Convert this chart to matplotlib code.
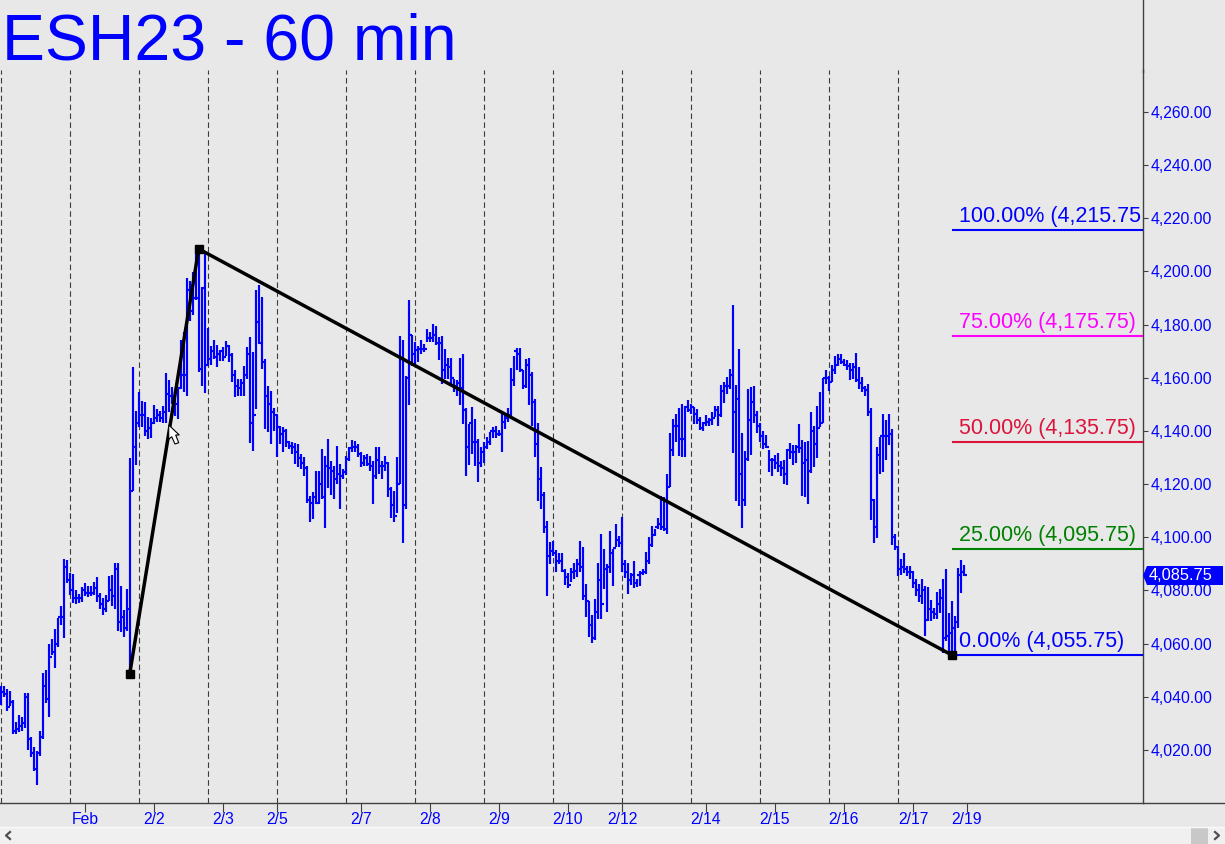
import matplotlib
matplotlib.use("Agg")
import matplotlib.pyplot as plt
from matplotlib.patches import Polygon, Rectangle

plt.rcParams['font.family'] = ['Liberation Sans', 'DejaVu Sans']

highs = [4044.2,4044.2,4043,4042.3,4038.8,4030.6,4033.2,4032.5,4041.6,4041.6,
4025,4021,4019.7,4027.2,4048.9,4050.2,4059.8,4061.7,4065.5,4069.5,
4074.3,4091.9,4091.4,4086.6,4086.2,4080.3,4078.7,4081.3,4082.8,4081.6,
4081.6,4083.1,4085.1,4079.1,4077.2,4078.4,4085.4,4086,4090.4,4090.4,
4081.6,4072.8,4080.6,4129.7,4164,4147.7,4154.8,4151.4,4150.8,4145.4,
4144.8,4149.6,4148.3,4147.7,4149.3,4161.8,4159,4156.5,4152,4155.8,
4174.1,4177.2,4197.6,4196.5,4199.9,4207,4209,4194,4207.4,4178.7,
4172,4174.1,4172.2,4170.3,4171.6,4173.7,4172.2,4169.3,4162.8,4159.6,
4159.6,4164.3,4171.6,4175.3,4169.7,4193,4194.8,4190.4,4167.2,4157.1,
4155.2,4148.6,4146.4,4141.8,4141.4,4140.8,4136.3,4135.7,4135.5,4135.1,
4131.3,4130.1,4126.9,4115.6,4116.9,4125,4125,4133.2,4130.7,4137,
4128.8,4126.9,4134.5,4127.5,4125.7,4130.7,4133.8,4136.7,4136.3,4135.1,
4132.2,4130.9,4131.3,4130.7,4128.8,4133.8,4133.8,4128.8,4130.7,4128.2,
4119.1,4117.5,4130.4,4175.7,4174.1,4160.6,4189.4,4176,4173.5,4172,
4174.1,4172.8,4178.5,4177.2,4180.4,4179.5,4175.4,4175.7,4170.7,4167.4,
4167.4,4159.6,4159,4167.4,4169.1,4148.6,4142.7,4148.9,4144.5,4137,
4133.9,4136,4137.6,4139.8,4141.4,4142,4140.5,4147,4146.4,4148.6,
4163.7,4168.4,4171.2,4171.2,4162.8,4166.9,4167.4,4162.2,4152.1,4142.9,
4126.3,4117.2,4106.2,4098.4,4098.6,4095.2,4094.2,4094.2,4088,4086.7,
4088.6,4090.5,4091.7,4098.6,4096.5,4082.3,4076,4070.6,4076.9,4090.5,
4101.4,4095.5,4089.8,4102.2,4095.5,4104.9,4100.5,4107.7,4091.5,4090.5,
4086.7,4091.1,4084.2,4087.3,4088.2,4094.6,4100.3,4104.3,4103,4107.1,
4115.6,4115,4124,4139.1,4144.5,4146.4,4148.5,4150.2,4149.3,4151.7,
4150.2,4148.9,4148.3,4145.1,4143.5,4146,4144.8,4147,4149.3,4149.3,
4157.3,4158.4,4160.2,4163.4,4187.5,4157.3,4170.9,4139.1,4132.3,4155.8,
4156.5,4156.8,4147.7,4143,4139.9,4138.5,4133,4130,4130.9,4131.7,
4128.8,4129,4133.2,4135.5,4134.7,4134.7,4142.6,4136.6,4135.7,4136.1,
4147,4142,4149.3,4154.6,4159.9,4162.8,4160.6,4165,4168.2,4169,
4169,4167.2,4166.8,4165.5,4165.5,4169.4,4164,4160.2,4157.1,4157.7,
4148.5,4114.6,4133.8,4137.6,4146.4,4144.3,4146.4,4140.8,4101.4,4096.7,
4091.7,4094.2,4089.2,4089.2,4087.3,4084.2,4082.3,4084.2,4081.6,4081.4,
4076.6,4073.5,4079.4,4080.4,4084.2,4088.2,4071.6,4076,4070.3,4088.6,
4091.3,4089.6]

lows = [4037,4040,4034.8,4036.7,4026.2,4026.2,4026.6,4027.2,4028.1,4020,
4017.2,4012,4007,4017.7,4024,4037.6,4032.5,4055.8,4050.8,4058.7,
4067.1,4062.1,4082.8,4078.4,4075.3,4074.9,4075.3,4075.6,4077.8,4077.6,
4077.8,4078.4,4075.7,4073.2,4070.6,4071.8,4075.9,4074.3,4073,4064.6,
4064.2,4062.5,4064.6,4049,4117.5,4127.3,4141.4,4141.6,4138.2,4137,
4137.4,4142.6,4143.5,4143.5,4142.9,4142.9,4147,4150.2,4145.8,4144.5,
4155.8,4154.6,4153,4181.3,4183.5,4189.2,4162.1,4157.1,4154.2,4164.6,
4164.9,4167.2,4164,4166.2,4166.5,4168.4,4165.9,4158.4,4152.7,4153.3,
4153.3,4153.1,4159.6,4135.4,4132.3,4148.3,4172.8,4163.4,4140.8,4139.7,
4135.1,4140.1,4130.1,4135.1,4132,4133.8,4133.2,4131.3,4127.5,4126.3,
4125.7,4123.1,4113.1,4105.8,4107,4112.5,4112.5,4114.3,4103.6,4118.7,
4115.8,4114.3,4120,4110.6,4121.9,4123.4,4128.8,4132,4132,4130.4,
4126.3,4126.7,4126.7,4125,4112.5,4121.9,4123.8,4121.9,4125,4115,
4107.4,4105.8,4109.3,4120,4098,4110.8,4149.6,4164.4,4165.3,4165.9,
4169.1,4169.7,4173.5,4173.5,4173.5,4172.2,4166.6,4157.5,4159.6,4159.6,
4157.8,4154.6,4153.1,4149.6,4142.7,4123.2,4127.3,4131.3,4126.7,4120.9,
4126.3,4127.8,4133.2,4134.9,4137.4,4137.2,4138,4132.2,4140.8,4143.3,
4145.8,4157.1,4162.8,4162.2,4155.9,4156.1,4149.9,4142,4130.1,4113.5,
4110.6,4101.8,4077.9,4089.8,4093,4086.9,4089.8,4086.9,4081.9,4081,
4083.2,4084.2,4085.2,4086.9,4076.4,4070.1,4062.5,4060.3,4061.2,4069.3,
4069.3,4080.4,4071.8,4086.7,4081.6,4096.5,4096.5,4086.9,4084.8,4078.5,
4081.9,4081,4081.4,4081.6,4086,4086.3,4090.1,4096.5,4100.5,4103,
4102.8,4102.4,4101.4,4118.8,4130.7,4136,4130.7,4130.4,4130.3,4147,
4146.4,4142.6,4142.6,4140.5,4140.1,4142,4142,4142.3,4145.1,4142,
4145.1,4150.4,4154,4155.8,4131.9,4113.7,4111.6,4103.4,4111.8,4128.8,
4131,4143,4139.1,4135.7,4133.2,4133.6,4124.6,4123.1,4125.6,4124.4,
4123.1,4120.2,4119.7,4129.4,4127.3,4127.9,4131.9,4115.6,4115.3,4112.7,
4124.1,4126.3,4129.8,4141.4,4143,4157.7,4155.2,4158.4,4161.5,4164.3,
4165.3,4164.6,4162.8,4159,4159.6,4158.4,4155.8,4154.6,4153.3,4145.8,
4106.5,4097.7,4099.6,4123.8,4124.6,4129,4134.8,4097,4095.2,4085.4,
4086,4086.7,4085.4,4084.2,4081,4077.9,4075.7,4075.1,4062.8,4068.4,
4068.4,4069.1,4069.1,4071.6,4056.5,4060.9,4056.5,4056.5,4055.5,4065.9,
4079.1,4085.4]

closes = [4042,4041,4036,4038,4027,4028,4029,4030,4040,4024,
4019,4013,4019,4025,4044,4039,4055,4057,4060,4070,
4070,4089,4084,4080,4077,4077,4077,4080,4079,4079,
4079,4081,4078,4075,4073,4076,4080,4078,4088,4068,
4070,4066,4073,4117.5,4134,4143,4146,4146,4140,4141,
4143,4145,4146,4145,4147,4154,4153,4151,4150,4156,
4161,4161,4193,4185,4190,4190,4163.5,4193.8,4165,4167,
4170,4168,4169,4170,4168,4172,4168.5,4161,4157,4156,
4158,4161,4169,4143,4146,4181,4173,4166,4153,4150,
4147,4146,4141.5,4139,4140,4136,4134.5,4134,4132,4130,
4128,4126,4114,4113,4115,4113,4120,4115,4127,4126,
4125,4122,4124,4123,4124.5,4129.5,4133.5,4134,4134,4131.5,
4128,4130,4127.5,4127,4123,4129,4127,4127,4128,4118,
4112,4108,4120,4167,4112,4160,4176,4169,4170.5,4171,
4171,4171,4175,4175,4176,4173,4173,4163,4165,4164,
4160,4157,4158,4156,4148,4134,4143,4136,4136,4128,
4132,4134,4136,4140,4140,4139,4139,4143.5,4145,4146,
4159,4170,4169,4163,4157,4165,4161,4151,4135,4122,
4116,4104,4093,4095,4094,4091,4091,4087.5,4085,4082,
4087,4087.5,4090,4089,4078,4076,4067,4062,4072,4084,
4075,4088,4089,4094,4096,4099,4098,4090,4087,4084,
4086,4083,4086,4086.5,4087,4091,4097,4101,4104,4105,
4104,4103,4119,4133,4142,4142,4137,4137,4149,4148,
4149,4146.5,4144,4141,4143,4143.5,4144,4145,4148,4146,
4155,4157,4157,4161,4147,4152,4124,4114,4129.5,4144,
4151,4146,4142,4138,4135,4134,4129,4129,4128,4127,
4126,4124,4133,4132,4132,4134,4133.5,4128,4129,4125,
4140,4135,4141,4143,4160,4160,4158.5,4163,4165,4167,
4166,4165,4164.5,4163,4164,4159,4158,4156,4155.5,4147,
4114,4104,4131,4138,4138,4138,4139,4100,4096.5,4088,
4089,4088,4087,4087,4083,4080,4078,4080,4069,4073,
4072,4071,4075,4077,4062,4063,4064,4066,4068,4086,
4087,4085.75]

y_ticks = [4020,4040,4060,4080,4100,4120,4140,4160,4180,4200,4220,4240,4260]
x_tick_bars = [28,51,74,92,120,143,166,189,207,235,258,281,304,322]
x_tick_labels = ['Feb','2/2','2/3','2/5','2/7','2/8','2/9','2/10','2/12','2/14','2/15','2/16','2/17','2/19']
session_breaks = [0,23,46,69,92,115,138,161,184,207,230,253,276,299]
fib_labels = ['100.00% (4,215.75','75.00% (4,175.75)','50.00% (4,135.75)','25.00% (4,095.75)','0.00% (4,055.75)']
fib_levels = [4215.75,4175.75,4135.75,4095.75,4055.75]
fib_colors = ['#0000ff','#ff00ff','#dc143c','#008000','#0000ff']
swing_bars = [43,66,317]
swing_prices = [4048.6,4208.5,4055.75]
last_price = 4085.75

BG = '#e8e8e8'
BLUE = '#0000ff'
AX = '#404040'
W, H = 1225, 844
fig = plt.figure(figsize=(W/100, H/100), dpi=100, facecolor=BG)
ax = fig.add_axes([0, (H-803)/H, 1143/W, 733/H], facecolor=BG)
bars = range(len(highs))
ax.set_xlim(-0.2333, 380.77)
ax.set_ylim(4000.06, 4275.8)

for b in session_breaks:
    ax.axvline(b+0.2, color='#3c3c3c', lw=0.8, dashes=(5, 3), zorder=1)

lw = 1.55
ax.vlines(bars, lows, highs, color=BLUE, lw=lw, zorder=3, capstyle='butt')
ax.hlines(closes, list(bars), [b+1 for b in bars], color=BLUE, lw=lw, zorder=3)

ax.plot(swing_bars, swing_prices, color='black', lw=2.5, zorder=5,
        marker='s', ms=5.2, solid_capstyle='round')

for lab, lev, col in zip(fib_labels, fib_levels, fib_colors):
    ax.hlines(lev, swing_bars[-1], 380.77, color=col, lw=1.5, zorder=4)
    ax.annotate(lab, (swing_bars[-1], lev), xytext=(7, 8),
                textcoords='offset pixels', color=col, fontsize=15.5,
                va='baseline', ha='left', clip_on=True, zorder=6)

for s in ['top', 'left']:
    ax.spines[s].set_visible(False)
ax.spines['right'].set_color(AX)
ax.spines['bottom'].set_color(AX)
ax.spines['right'].set_linewidth(1)
ax.spines['bottom'].set_linewidth(1)
ax.yaxis.tick_right()
ax.set_yticks(y_ticks, [f'{v:,.2f}' for v in y_ticks])
ax.set_xticks([b+0.1 for b in x_tick_bars], x_tick_labels)
ax.tick_params(axis='y', direction='out', length=3.6, width=0.8, color=AX,
               labelcolor=BLUE, labelsize=11.3, pad=2)
ax.tick_params(axis='x', direction='out', length=6.5, width=0.8, color=AX,
               labelcolor=BLUE, labelsize=11.3, pad=0)
for t in ax.get_xticklabels():
    t.set_clip_on(False)

# window furniture in pixel coordinates
ov = fig.add_axes([0, 0, 1, 1], facecolor='none')
ov.set_xlim(0, W); ov.set_ylim(H, 0); ov.axis('off')
ov.plot([1143, W], [803, 803], color=AX, lw=1)
ov.plot([1143, 1143], [0, 72], color=AX, lw=1)
ov.add_patch(Rectangle((0, 827), W, 17, fc='#f0f0f0', ec='none'))
ov.plot([0, W], [826.5, 826.5], color='#fafafa', lw=1)
ov.add_patch(Rectangle((1191, 828), 17, 16, fc='#c8c8c8', ec='none'))
ov.plot([10, 6, 10], [832, 835.5, 839], color='#505050', lw=1.6)
ov.plot([1215, 1219, 1215], [832, 835.5, 839], color='#505050', lw=1.6)
ov.add_patch(Polygon([(1143, 575.5), (1147, 566), (1223, 566), (1223, 585), (1147, 585)],
                     closed=True, fc=BLUE, ec='none', zorder=7))
ov.text(1149, 575.5, f'{last_price:,.2f}', color='white', fontsize=11.8,
        va='center', ha='left', zorder=8)
ov.add_patch(Polygon([(168.7, 425), (168.7, 439.3), (171.7, 436.7), (175, 444), (178.7, 442.7),
                      (175.7, 435), (179.3, 435)], closed=True, fc='white', ec='black',
                     lw=0.8, zorder=8))
ov.text(2, 60, 'ESH23 - 60 min', color=BLUE, fontsize=46.4, va='baseline', ha='left', zorder=9)

fig.savefig('out.png', dpi=100, facecolor=BG)
